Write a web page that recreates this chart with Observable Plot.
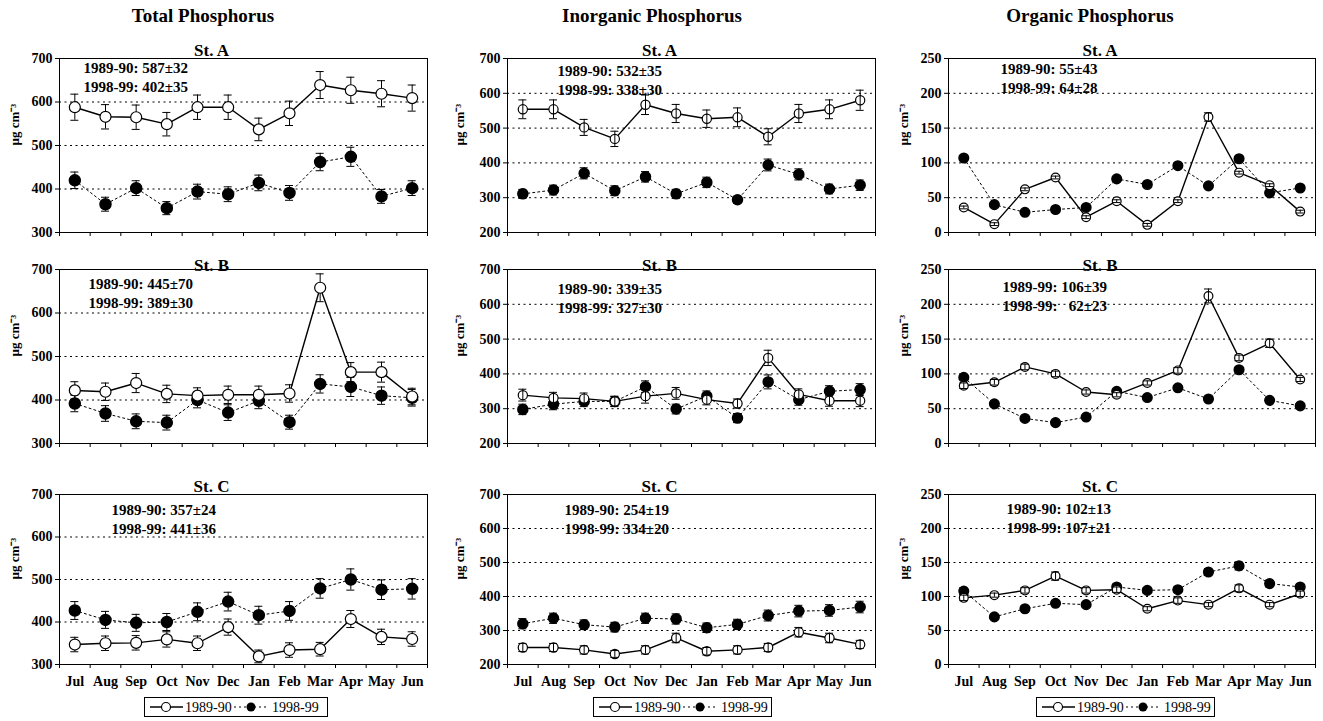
<!DOCTYPE html>
<html><head><meta charset="utf-8">
<script src="https://cdn.jsdelivr.net/npm/d3@7"></script>
<script src="https://cdn.jsdelivr.net/npm/@observablehq/plot@0.6"></script>
<style>
html,body{margin:0;padding:0;background:#fff;}
body{width:1323px;height:721px;position:relative;overflow:hidden;font-family:"Liberation Serif","Times New Roman",serif;color:#000;}
.panel{position:absolute;}
.coltitle{position:absolute;top:5px;font-weight:bold;font-size:19px;transform:translateX(-50%);white-space:nowrap;}
.legend{position:absolute;top:697px;height:20px;border:1px solid #000;box-sizing:border-box;}
</style></head><body>
<script>
// ---------- data ----------
const months = ["Jul","Aug","Sep","Oct","Nov","Dec","Jan","Feb","Mar","Apr","May","Jun"];
const seriesNames = ["1989-90","1998-99"];
const columnTitles = ["Total Phosphorus","Inorganic Phosphorus","Organic Phosphorus"];
const stationNames = ["St. A","St. B","St. C"];
const yLabel = "µg cm⁻³";

// Total phosphorus
const totalA_8990 = [588,566,565,549,588,588,537,574,639,627,619,609];
const totalA_8990_err = [30,28,28,27,28,28,26,28,31,30,30,30];
const totalA_9899 = [420,365,402,356,394,388,414,391,462,474,383,402];
const totalA_9899_err = [19,16,17,15,17,17,18,17,20,22,16,17];
const totalA_notes = ["1989-90: 587±32","1998-99: 402±35"];
const totalB_8990 = [422,419,439,414,410,412,412,415,658,464,464,408];
const totalB_8990_err = [20,20,22,20,18,20,20,20,32,22,23,19];
const totalB_9899 = [392,369,351,348,400,371,398,349,437,430,410,405];
const totalB_9899_err = [19,18,17,17,18,18,18,16,21,22,20,19];
const totalB_notes = ["1989-90: 445±70","1998-99: 389±30"];
const totalC_8990 = [347,350,351,359,350,388,319,334,336,407,365,360];
const totalC_8990_err = [17,17,17,18,17,19,15,17,16,20,18,17];
const totalC_9899 = [427,405,398,400,424,448,416,426,479,500,476,478];
const totalC_9899_err = [21,20,20,20,21,22,21,22,23,25,23,24];
const totalC_notes = ["1989-90: 357±24","1998-99: 441±36"];

// Inorganic phosphorus
const inorgA_8990 = [554,554,502,469,567,542,527,531,475,542,554,580];
const inorgA_8990_err = [27,27,23,22,28,26,25,27,23,26,27,29];
const inorgA_9899 = [311,322,370,320,360,311,344,294,394,367,325,336];
const inorgA_9899_err = [13,14,16,14,15,13,15,10,17,16,14,15];
const inorgA_notes = ["1989-90: 532±35","1998-99: 338±30"];
const inorgB_8990 = [339,331,329,321,336,344,326,315,446,341,323,323];
const inorgB_8990_err = [17,16,16,15,20,17,15,13,22,16,16,17];
const inorgB_9899 = [298,313,321,321,363,299,336,273,377,326,350,355];
const inorgB_9899_err = [15,16,15,14,17,14,15,13,20,16,16,17];
const inorgB_notes = ["1989-90: 339±35","1998-99: 327±30"];
const inorgC_8990 = [250,250,243,231,243,278,239,243,250,295,278,259];
const inorgC_8990_err = [12,12,12,10,12,14,11,12,12,14,14,12];
const inorgC_9899 = [320,336,317,310,336,334,308,318,344,357,359,369];
const inorgC_9899_err = [15,15,14,14,15,15,14,15,16,17,17,17];
const inorgC_notes = ["1989-90: 254±19","1998-99: 334±20"];

// Organic phosphorus
const orgA_8990 = [36,12,62,79,22,45,11,45,166,86,68,30];
const orgA_8990_err = [2,2,2,2,2,2,2,2,6,2,2,2];
const orgA_9899 = [107,40,29,33,36,77,69,96,67,106,57,64];
const orgA_9899_err = [3,2,2,2,2,2,2,3,2,3,3,2];
const orgA_notes = ["1989-90: 55±43","1998-99: 64±28"];
const orgB_8990 = [83,88,110,100,74,70,87,105,212,123,144,92];
const orgB_8990_err = [4,4,4,4,3,3,3,4,10,4,6,3];
const orgB_9899 = [95,57,36,30,38,75,66,80,64,106,62,54];
const orgB_9899_err = [3,2,2,2,2,3,2,2,2,3,2,2];
const orgB_notes = ["1989-99: 106±39","1998-99:\u00a0\u00a0 62±23"];
const orgC_8990 = [98,102,109,130,109,110,82,94,88,112,88,104];
const orgC_8990_err = [4,3,4,6,4,4,3,4,3,5,3,4];
const orgC_9899 = [108,70,82,90,88,114,109,110,136,145,119,114];
const orgC_9899_err = [5,3,3,3,3,4,4,4,5,6,5,4];
const orgC_notes = ["1989-90: 102±13","1998-99: 107±21"];

// axis ticks per column
const totalTicks = [300,400,500,600,700];
const inorgTicks = [200,300,400,500,600,700];
const orgTicks = [0,50,100,150,200,250];

// ---------- layout (styles/positions) ----------
const W = 441;
const colX = [0, 441, 882];
const colML = [59, 66, 66];
const colMR = [14, 7, 8];
const rowFrameTop = [58, 269, 494];
const rowFrameH = [174, 174, 170];
const rowMB = [8, 8, 30];
const MT = 22;
const stDy = [-3, 1, -3];
const noteOffsets = [
  [[24,8],[50,11],[52,9]],
  [[29,13],[50,18],[54,16]],
  [[52,14],[57,14],[58,13]]
];
const labelDx = [-45, -48, -45];
const dotR = [[5.5,5.5],[4.6,5],[4.4,4.8]]; // [open, filled] per column
const barsOverOpen = [false, true, true];
const titleCenters = [203, 652, 1090];
const legendBoxes = [[144,184],[593,179],[1036,179]];

const columns = [
  {ticks: totalTicks, panels: [
    [totalA_8990,totalA_8990_err,totalA_9899,totalA_9899_err,totalA_notes],
    [totalB_8990,totalB_8990_err,totalB_9899,totalB_9899_err,totalB_notes],
    [totalC_8990,totalC_8990_err,totalC_9899,totalC_9899_err,totalC_notes]]},
  {ticks: inorgTicks, panels: [
    [inorgA_8990,inorgA_8990_err,inorgA_9899,inorgA_9899_err,inorgA_notes],
    [inorgB_8990,inorgB_8990_err,inorgB_9899,inorgB_9899_err,inorgB_notes],
    [inorgC_8990,inorgC_8990_err,inorgC_9899,inorgC_9899_err,inorgC_notes]]},
  {ticks: orgTicks, panels: [
    [orgA_8990,orgA_8990_err,orgA_9899,orgA_9899_err,orgA_notes],
    [orgB_8990,orgB_8990_err,orgB_9899,orgB_9899_err,orgB_notes],
    [orgC_8990,orgC_8990_err,orgC_9899,orgC_9899_err,orgC_notes]]}
];

const FONT = "'Liberation Serif','Times New Roman',serif";

function makePanel(col, row) {
  const {ticks, panels} = columns[col];
  const [v1, e1, v2, e2, notes] = panels[row];
  const s1 = months.map((m,i)=>({month:m, v:v1[i], lo:v1[i]-e1[i], hi:v1[i]+e1[i]}));
  const s2 = months.map((m,i)=>({month:m, v:v2[i], lo:v2[i]-e2[i], hi:v2[i]+e2[i]}));
  const ml = colML[col], mr = colMR[col], fh = rowFrameH[row], mb = rowMB[row];
  const fw = W - ml - mr;
  const step = fw / months.length;
  const pin = 1 - 8 / step;
  const ymin = ticks[0], ymax = ticks[ticks.length-1];
  const grid = ticks.slice(1, -1);
  const [ro, rf] = dotR[col];
  const bars = (d) => [
    Plot.ruleX(d, {x:"month", y1:"lo", y2:"hi", stroke:"#000", strokeWidth:1}),
    Plot.tickY(d, {x:"month", y:"lo", stroke:"#000", strokeWidth:1}),
    Plot.tickY(d, {x:"month", y:"hi", stroke:"#000", strokeWidth:1})
  ];
  const openDots = Plot.dot(s1, {x:"month", y:"v", r:ro, fill:"#fff", stroke:"#000", strokeWidth:1.2});
  const fillDots = Plot.dot(s2, {x:"month", y:"v", r:rf, fill:"#000", stroke:"#000"});
  const marks = [
    Plot.ruleY(grid, {stroke:"#000", strokeWidth:1, strokeDasharray:"2,3.5"}),
    Plot.ruleX(months, {dx:-step/2, insetTop: fh, insetBottom: -4, stroke:"#000"}),
    Plot.ruleX(months.slice(-1), {dx: step/2, insetTop: fh, insetBottom: -4, stroke:"#000"}),
    Plot.line(s2, {x:"month", y:"v", stroke:"#000", strokeWidth:1, strokeDasharray:"2,3"}),
    Plot.line(s1, {x:"month", y:"v", stroke:"#000", strokeWidth:1.4}),
    ...bars(s2),
    fillDots,
  ];
  if (barsOverOpen[col]) { marks.push(openDots, ...bars(s1)); }
  else { marks.push(...bars(s1), openDots); }
  const [ndx, ndy] = noteOffsets[row][col];
  marks.push(
    Plot.text([notes.join("\n")], {frameAnchor:"top-left", textAnchor:"start", lineAnchor:"top", dx: ndx, dy: ndy - 7.5, fontSize: 15, fontWeight:"bold", lineHeight: 1.27, fill:"#000"}),
    Plot.text([stationNames[row]], {frameAnchor:"top", lineAnchor:"bottom", dx:-32, dy: stDy[row], fontSize:17, fontWeight:"bold", fill:"#000"}),
    Plot.text([yLabel], {frameAnchor:"left", rotate:-90, dx: labelDx[col], fontSize:13, fontWeight:"bold", fill:"#000"}),
    Plot.frame({stroke:"#000", strokeWidth:1})
  );
  const svg = Plot.plot({
    width: W, height: MT + fh + mb,
    marginLeft: ml, marginRight: mr, marginTop: MT, marginBottom: mb,
    style: {fontFamily: FONT, fontSize: "14px", fontWeight: "bold", color: "#000", background: "transparent", overflow: "visible"},
    x: {type:"band", domain: months, paddingInner: pin, paddingOuter: pin/2, round:false,
        axis: row === 2 ? "bottom" : null, tickSize: 0, tickPadding: 12, label: null},
    y: {domain: [ymin, ymax], ticks: ticks, tickSize: 4, tickPadding: 3,
        label: null, tickFormat: d => String(d)},
    marks
  });
  const div = document.createElement("div");
  div.className = "panel";
  div.style.left = colX[col] + "px";
  div.style.top = (rowFrameTop[row] - MT) + "px";
  div.appendChild(svg);
  document.body.appendChild(div);
}

for (let c = 0; c < 3; c++) for (let r = 0; r < 3; r++) makePanel(c, r);

columnTitles.forEach((t, i) => {
  const d = document.createElement("div");
  d.className = "coltitle";
  d.style.left = titleCenters[i] + "px";
  d.textContent = t;
  document.body.appendChild(d);
});

legendBoxes.forEach(([x, w]) => {
  const d = document.createElement("div");
  d.className = "legend";
  d.style.left = x + "px";
  d.style.width = w + "px";
  d.innerHTML = `<svg width="${w-2}" height="18" style="display:block">
    <line x1="5" x2="38" y1="9" y2="9" stroke="#000" stroke-width="1.4"/>
    <circle cx="21" cy="9" r="4.5" fill="#fff" stroke="#000" stroke-width="1.2"/>
    <text x="40" y="14" font-family="${FONT}" font-size="14">${seriesNames[0]}</text>
    <line x1="89" x2="124" y1="9" y2="9" stroke="#000" stroke-dasharray="2,3"/>
    <circle cx="106" cy="9" r="4.5" fill="#000"/>
    <text x="127" y="14" font-family="${FONT}" font-size="14">${seriesNames[1]}</text>
  </svg>`;
  document.body.appendChild(d);
});
</script>
</body></html>
